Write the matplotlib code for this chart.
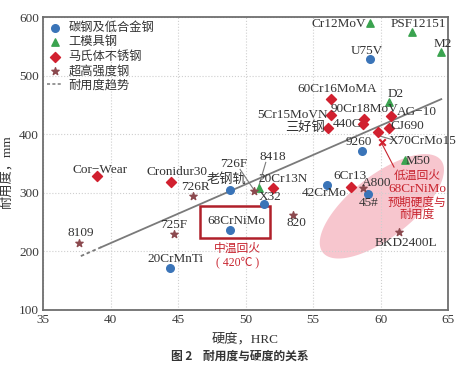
import numpy as np
import matplotlib
matplotlib.use("Agg")
import matplotlib.pyplot as plt
from matplotlib.patches import Polygon, Rectangle

plt.rcParams['font.family'] = ['Liberation Serif', 'Noto Sans CJK SC']
plt.rcParams['axes.unicode_minus'] = False

# carbon / low alloy steels
blue_names = ['U75V', '9260', '42CrMo', '45#', 'X32', '老钢轨', '68CrNiMo', '20CrMnTi']
blue_hrc = [59.2, 58.6, 56.0, 59.1, 51.4, 48.85, 48.85, 44.4]
blue_life = [528, 371, 313, 298, 281, 305, 236, 172]

# tool / die steels
green_names = ['Cr12MoV', 'PSF12151', 'M2', 'D2', 'M50', '8418']
green_hrc = [59.2, 62.3, 64.5, 60.6, 61.8, 51.0]
green_life = [590, 574, 540, 455, 356, 308]

# martensitic stainless
red_names = ['Cor−Wear', 'Cronidur30', '20Cr13N', '6Cr13', '60Cr16MoMA', '5Cr15MoVN',
             '三好钢', '90Cr18MoV', '440C', 'AG−10', 'CJ690', 'X70CrMo15']
red_hrc = [39.0, 44.5, 52.0, 57.8, 56.3, 56.3, 56.1, 58.8, 58.7, 60.8, 60.6, 59.8]
red_life = [329, 318, 308, 310, 460, 433, 411, 426, 417, 431, 411, 404]

# ultra high strength steels
star_names = ['8109', '725F', '726R', '726F', '820', 'A800', 'BKD2400L']
star_hrc = [37.7, 44.7, 46.1, 50.6, 53.5, 58.7, 61.4]
star_life = [214, 230, 295, 303, 262, 308, 233]

# expected 68CrNiMo after low-temperature tempering
exp_hrc = [60.1]
exp_life = [387]

# trend line end points
trend_hrc = [37.8, 64.5]
trend_life = [192, 460]

c_blue = '#3a74b8'
c_green = '#3aa34f'
c_red = '#d1202f'
c_star = '#8c4a4f'
c_grey = '#7a7a7a'
c_ann = '#c8242f'

fig = plt.figure(figsize=(4.71, 3.73), dpi=100)
ax = fig.add_axes([0.0913, 0.169, 0.8599, 0.785])
ax.set_xlim(35, 65)
ax.set_ylim(100, 600)
ax.set_xticks(range(35, 66, 5))
ax.set_yticks(range(100, 601, 100))
ax.grid(True, color='#cfcfcf', linestyle=':', linewidth=0.8)
ax.tick_params(length=0, labelsize=9.5, pad=3, colors='#3a3a3a')
for s in ax.spines.values():
    s.set_color('#6e6e6e')
    s.set_linewidth(1.3)

# pink ellipse, drawn in pixel space so its shape matches the picture
sx = 405 / 30.0
sy = 293 / 500.0
t = np.linspace(0, 2 * np.pi, 200)
ang = np.deg2rad(38)
a, b = 75, 31
px = a * np.cos(t) * np.cos(ang) - b * np.sin(t) * np.sin(ang)
py = a * np.cos(t) * np.sin(ang) + b * np.sin(t) * np.cos(ang)
ell = Polygon(np.column_stack([60.1 + px / sx, 277 + py / sy]), closed=True,
              facecolor='#f6bcc6', edgecolor='none', alpha=0.85, zorder=1)
ax.add_patch(ell)

# trend line: short dashed start, then solid
x0, x1 = trend_hrc
y0, y1 = trend_life
xm = 39.3
ym = y0 + (y1 - y0) * (xm - x0) / (x1 - x0)
ax.plot([x0, xm], [y0, ym], color=c_grey, lw=1.3, ls=(0, (2, 1.5)), zorder=2)
ax.plot([xm, x1], [ym, y1], color=c_grey, lw=1.3, zorder=2)

ax.scatter(blue_hrc, blue_life, marker='o', s=30, color=c_blue, zorder=4, label='碳钢及低合金钢')
ax.scatter(green_hrc, green_life, marker='^', s=28, color=c_green, zorder=4, label='工模具钢')
ax.scatter(red_hrc, red_life, marker='D', s=26, color=c_red, zorder=4, label='马氏体不锈钢')
ax.scatter(star_hrc, star_life, marker='*', s=30, color=c_star, zorder=4, label='超高强度钢')
ax.plot([], [], color=c_grey, lw=1.1, ls=(0, (2, 1.5)), label='耐用度趋势')
ax.scatter(exp_hrc, exp_life, marker='x', s=22, color=c_red, linewidths=1.5, zorder=4)

leg = ax.legend(loc='upper left', frameon=False, handlelength=1.3,
                handletextpad=0.5, labelspacing=0.12, borderaxespad=0.05,
                borderpad=0.25, prop={'family': ['Noto Sans CJK SC'], 'size': 8.8})
for txt in leg.get_texts():
    txt.set_color('#333333')

# point labels (label position in data units)
label_pos = {
    'U75V': (59.0, 542), '9260': (58.4, 387), '42CrMo': (55.8, 300), '45#': (59.1, 283),
    'X32': (51.8, 293), '老钢轨': (48.6, 322), '68CrNiMo': (49.3, 252), '20CrMnTi': (44.8, 187),
    'Cr12MoV': (56.9, 588), 'PSF12151': (62.8, 588), 'M2': (64.6, 554), 'D2': (61.1, 469),
    'M50': (62.8, 354), '8418': (52.0, 361),
    'Cor−Wear': (39.2, 339), 'Cronidur30': (44.9, 336), '20Cr13N': (52.8, 324), '6Cr13': (57.7, 329),
    '60Cr16MoMA': (56.8, 477), '5Cr15MoVN': (53.5, 433), '三好钢': (54.4, 411),
    '90Cr18MoV': (58.8, 443), '440C': (57.5, 417), 'AG−10': (62.7, 438), 'CJ690': (62.0, 414),
    'X70CrMo15': (63.1, 388),
    '8109': (37.8, 231), '725F': (44.7, 245), '726R': (46.3, 310), '726F': (49.1, 349),
    '820': (53.8, 248), 'A800': (59.7, 317), 'BKD2400L': (61.9, 214),
}
for name, (lx, ly) in label_pos.items():
    ax.text(lx, ly, name, fontsize=9.5, ha='center', va='center', color='#333333', zorder=5)

# leader lines
ax.plot([49.6, 50.6], [340, 306], color=c_grey, lw=0.8, zorder=3)
ax.plot([51.5, 51.0], [352, 313], color=c_grey, lw=0.8, zorder=3)
ax.plot([59.8, 61.0], [398, 390], color=c_grey, lw=0.8, zorder=3)
ax.plot([60.1, 61.0], [384, 344], color=c_ann, lw=0.8, zorder=3)

ax.text(62.7, 330, '低温回火', fontsize=8.5, ha='center', va='center', color=c_ann,
        family=['Noto Sans CJK SC'], zorder=5)
ax.text(62.7, 307, '68CrNiMo', fontsize=9.5, ha='center', va='center', color=c_ann, zorder=5)
ax.text(62.7, 285, '预期硬度与', fontsize=8.5, ha='center', va='center', color=c_ann,
        family=['Noto Sans CJK SC'], zorder=5)
ax.text(62.7, 264, '耐用度', fontsize=8.5, ha='center', va='center', color=c_ann,
        family=['Noto Sans CJK SC'], zorder=5)

ax.add_patch(Rectangle((46.6, 223), 5.2, 54, fill=False, edgecolor='#b0202a', lw=1.8, zorder=3))
ax.text(49.4, 206, '中温回火', fontsize=8.5, ha='center', va='center', color=c_ann,
        family=['Noto Sans CJK SC'], zorder=5)
ax.text(49.4, 182, '( 420℃ )', fontsize=8.5, ha='center', va='center', color=c_ann,
        family=['Liberation Serif', 'Noto Sans CJK SC'], zorder=5)

ax.set_xlabel('硬度，HRC', fontsize=9.5, labelpad=5, color='#333333')
ax.set_ylabel('耐用度，mm', fontsize=9.5, labelpad=4, color='#333333')
ax.yaxis.set_label_coords(-0.075, 0.47)

fig.text(0.51, 0.045, '图 2    耐用度与硬度的关系', fontsize=8.5, ha='center', va='center',
         family=['Noto Sans CJK SC'], weight='bold', color='#333333')

fig.savefig('out.png', dpi=100)
